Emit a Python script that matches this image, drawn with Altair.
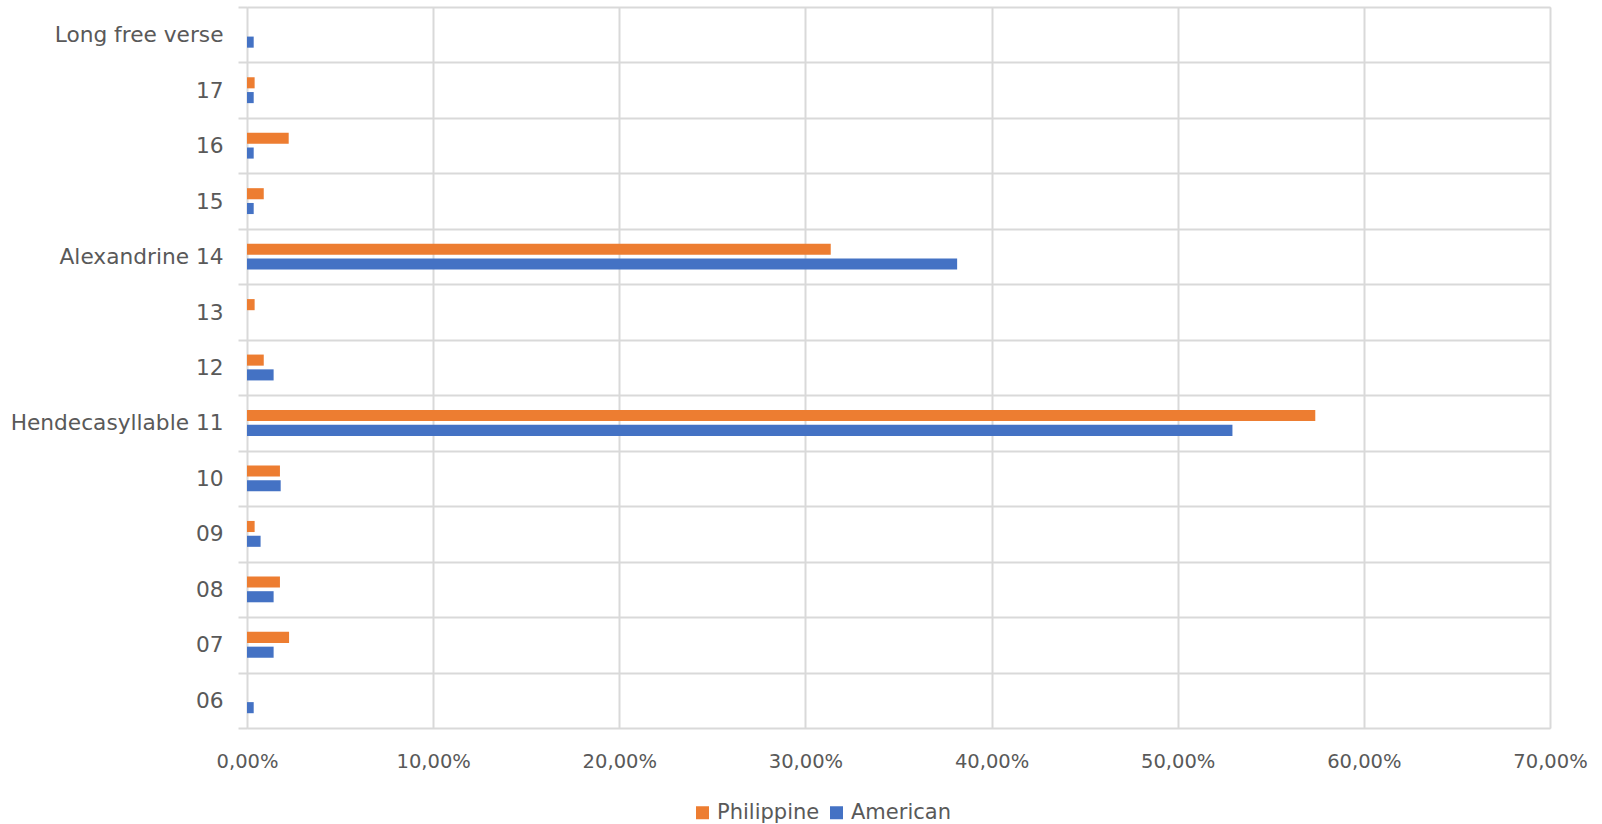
import altair as alt
import pandas as pd

categories = ["Long free verse", "17", "16", "15", "Alexandrine 14", "13", "12",
              "Hendecasyllable 11", "10", "09", "08", "07", "06"]
philippine = [0.0, 0.41, 2.24, 0.90, 31.36, 0.41, 0.90, 57.39, 1.77, 0.41, 1.77, 2.26, 0.0]
american = [0.36, 0.36, 0.36, 0.36, 38.15, 0.0, 1.43, 52.94, 1.81, 0.73, 1.43, 1.43, 0.36]
series = ["Philippine", "American"]
colors = ["#ED7D31", "#4472C4"]
x_ticks = [0, 0.1, 0.2, 0.3, 0.4, 0.5, 0.6, 0.7]

rows = []
for c, p, a in zip(categories, philippine, american):
    rows.append({"cat": c, "series": "Philippine", "value": p / 100})
    rows.append({"cat": c, "series": "American", "value": a / 100})
df = pd.DataFrame(rows)

FONT = "DejaVu Sans"
GRID = "#d9d9d9"
TEXT = "#595959"

chart = alt.Chart(df).mark_bar().encode(
    y=alt.Y("cat:N", sort=categories,
            scale=alt.Scale(paddingInner=0, paddingOuter=0),
            axis=alt.Axis(title=None, tickBand="extent", grid=True, gridColor=GRID,
                          gridWidth=2, ticks=True, tickColor=GRID, tickWidth=2,
                          tickSize=9, domain=False, labelPadding=15, labelFontSize=21.7,
                          labelColor=TEXT, labelFont=FONT, labelLimit=400)),
    yOffset=alt.YOffset("series:N", sort=series,
                        scale=alt.Scale(paddingInner=0.25, paddingOuter=1.0)),
    x=alt.X("value:Q", scale=alt.Scale(domain=[0, 0.7], nice=False),
            axis=alt.Axis(title=None, values=x_ticks, grid=True, gridColor=GRID,
                          gridWidth=2, ticks=False, domain=False,
                          labelExpr="replace(format(datum.value*100, '.2f'), '.', ',') + '%'",
                          labelFontSize=19.5, labelColor=TEXT, labelFont=FONT,
                          labelPadding=24, labelFlush=False)),
    color=alt.Color("series:N", sort=series,
                    scale=alt.Scale(domain=series, range=colors),
                    legend=alt.Legend(title=None, orient="none", legendX=445, legendY=795,
                                      direction="horizontal", symbolType="square",
                                      symbolSize=169, symbolStrokeWidth=0,
                                      labelFontSize=21, labelColor=TEXT, labelFont=FONT,
                                      columnPadding=6, labelOffset=4, padding=0)),
).properties(
    width=1303,
    height=721,
    autosize=alt.AutoSizeParams(type="none"),
    padding={"left": 247, "top": 7, "right": 52, "bottom": 96},
).configure_view(
    fill="#ececec", stroke=None
).configure(
    background="white"
)

chart.save("out.html", embed_options={"renderer": "svg", "actions": False})
